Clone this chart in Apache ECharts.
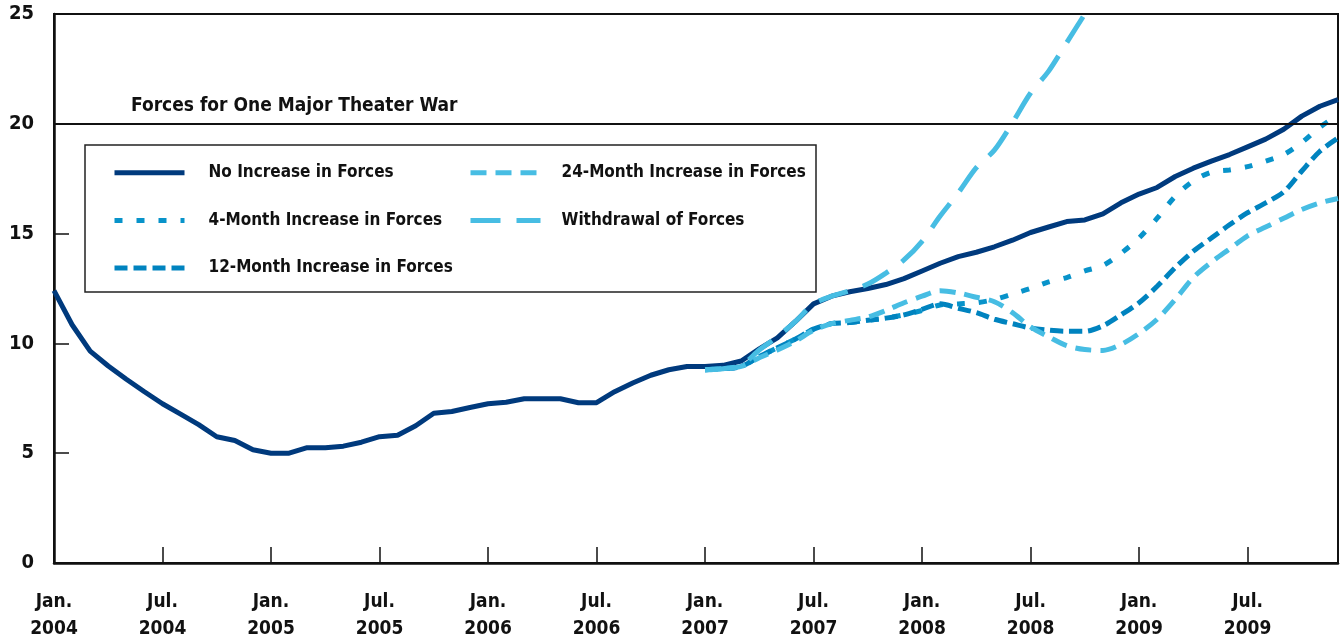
<!DOCTYPE html>
<html>
<head>
<meta charset="utf-8">
<script src="https://cdn.jsdelivr.net/npm/echarts@6/dist/echarts.min.js"></script>
<style>
    html, body { margin: 0; padding: 0; background: #fff; }
    #chart { width: 1340px; height: 643px; }
</style>
</head>
<body>
<div id="chart"></div>
<script>
// monthly points, Jan 2004 .. Dec 2009
var years = [2004, 2005, 2006, 2007, 2008, 2009];
var monthNames = ['Jan.', 'Feb.', 'Mar.', 'Apr.', 'May', 'Jun.', 'Jul.', 'Aug.', 'Sep.', 'Oct.', 'Nov.', 'Dec.'];
var yTicks = [0, 5, 10, 15, 20, 25];
var theaterWarLevel = 20;

var noIncrease = [
    12.4, 10.85, 9.65, 8.97, 8.37, 7.8, 7.25, 6.78, 6.3, 5.75, 5.58, 5.16,
    5.0, 5.0, 5.25, 5.25, 5.32, 5.5, 5.75, 5.82, 6.25, 6.82, 6.9, 7.08,
    7.25, 7.32, 7.48, 7.48, 7.48, 7.3, 7.3, 7.8, 8.2, 8.55, 8.8, 8.95,
    8.95, 9.0, 9.2, 9.75, 10.25, 11.0, 11.8, 12.15, 12.35, 12.5, 12.68, 12.95,
    13.3, 13.65, 13.95, 14.15, 14.4, 14.7, 15.05, 15.3, 15.55, 15.62, 15.9, 16.4,
    16.8, 17.1, 17.6, 17.98, 18.3, 18.6, 18.95, 19.3, 19.75, 20.35, 20.8, 21.1
];
// projections start Jan 2007 (month index 36)
var projStart = 36;
var fourMonth = [
    8.8, 8.85, 8.95, 9.4, 9.8, 10.2, 10.65, 10.9, 10.95, 11.05, 11.15, 11.3,
    11.5, 11.75, 11.8, 11.85, 12.0, 12.25, 12.5, 12.8, 13.0, 13.3, 13.55, 14.1,
    14.8, 15.7, 16.7, 17.4, 17.8, 17.9, 18.05, 18.3, 18.6, 19.15, 19.85, 20.4
];
var twelveMonth = [
    8.8, 8.85, 8.95, 9.4, 9.8, 10.2, 10.65, 10.9, 10.95, 11.05, 11.15, 11.3,
    11.55, 11.8, 11.6, 11.4, 11.1, 10.9, 10.7, 10.6, 10.55, 10.55, 10.8, 11.3,
    11.85, 12.6, 13.45, 14.2, 14.8, 15.4, 15.95, 16.4, 16.9, 17.85, 18.75, 19.35
];
var twentyFourMonth = [
    8.8, 8.85, 8.95, 9.35, 9.7, 10.1, 10.6, 10.9, 11.05, 11.2, 11.5, 11.85,
    12.15, 12.4, 12.3, 12.1, 11.9, 11.4, 10.75, 10.3, 9.9, 9.72, 9.68, 9.95,
    10.45, 11.1, 12.0, 13.0, 13.7, 14.3, 14.9, 15.3, 15.7, 16.1, 16.4, 16.6
];
var withdrawal = [
    8.8, 8.85, 9.0, 9.7, 10.3, 11.0, 11.8, 12.15, 12.4, 12.7, 13.2, 13.8,
    14.65, 15.8, 16.85, 18.0, 18.8, 20.05, 21.4, 22.4, 23.7, 25.0, 26.3
];

var categories = [];
years.forEach(function (y) {
    monthNames.forEach(function (m) { categories.push(m + '|' + y); });
});

function pad(arr) {
    var out = [];
    for (var i = 0; i < projStart; i++) out.push(null);
    return out.concat(arr);
}

var FONT = "'DejaVu Sans Condensed', 'Liberation Sans Narrow', sans-serif";
var DARK = '#003a7d';
var MID = '#0893ca';
var MID2 = '#0083bf';
var LIGHT = '#47bde3';

function proj(name, data, color, dash) {
    return {
        name: name,
        type: 'line',
        data: data,
        symbol: 'none',
        smooth: 0.3,
        lineStyle: { color: color, width: 5, type: dash, cap: 'butt' },
        itemStyle: { color: color }
    };
}

var chart = echarts.init(document.getElementById('chart'));

var legendText = { fontFamily: FONT, fontWeight: 'bold', fontSize: 17, color: '#111' };

function legendBlock(names, left, textPad) {
    return {
        data: names,
        orient: 'vertical', left: left, top: 159, z: 6,
        itemWidth: 70, itemHeight: 22, itemGap: 30,
        itemStyle: { opacity: 0, borderWidth: 0 },
        lineStyle: { width: 5, inactiveWidth: 5 },
        textStyle: Object.assign({ padding: [0, 0, 0, textPad] }, legendText)
    };
}

chart.setOption({
    animation: false,
    grid: { left: 54, right: 2, top: 14, bottom: 77, show: true, borderColor: '#111', borderWidth: 2 },
    graphic: [
        {
            type: 'rect', z: 3,
            shape: { x: 85, y: 145, width: 731, height: 147 },
            style: { fill: '#fff', stroke: '#222', lineWidth: 1.5 }
        },
        {
            type: 'text', left: 131, top: 97, z: 5,
            style: { text: 'Forces for One Major Theater War', font: 'bold 19px ' + FONT, fill: '#111' }
        }
    ],
    legend: [
        legendBlock(['No Increase in Forces', '4-Month Increase in Forces', '12-Month Increase in Forces'], 107, 19),
        legendBlock(['24-Month Increase in Forces', 'Withdrawal of Forces'], 463, 16)
    ],
    xAxis: {
        type: 'category',
        data: categories,
        boundaryGap: false,
        axisLine: { lineStyle: { color: '#111', width: 2.5 } },
        axisTick: { inside: true, length: 16, interval: 5, lineStyle: { color: '#111', width: 1.5 } },
        axisLabel: {
            interval: 5,
            margin: 26,
            fontFamily: FONT, fontWeight: 'bold', fontSize: 19, lineHeight: 27, color: '#111',
            formatter: function (v) { var p = v.split('|'); return p[0] + '\n' + p[1]; }
        },
        splitLine: { show: false }
    },
    yAxis: {
        type: 'value',
        min: yTicks[0], max: yTicks[yTicks.length - 1], interval: 5,
        axisLine: { show: true, lineStyle: { color: '#111', width: 2.5 } },
        axisTick: { show: true, inside: true, length: 15, lineStyle: { color: '#111', width: 1.5 } },
        axisLabel: { margin: 20, padding: [9, 0, 0, 0], fontFamily: FONT, fontWeight: 'bold', fontSize: 20, color: '#111' },
        splitLine: { show: false }
    },
    series: [
        {
            name: 'No Increase in Forces',
            type: 'line',
            data: noIncrease,
            symbol: 'none',
            z: 3,
            lineStyle: { color: DARK, width: 5 },
            itemStyle: { color: DARK },
            markLine: {
                silent: true, symbol: 'none',
                label: { show: false },
                lineStyle: { color: '#111', width: 2, type: 'solid' },
                data: [{ yAxis: theaterWarLevel }]
            }
        },
        proj('4-Month Increase in Forces', pad(fourMonth), MID, [8, 14]),
        proj('12-Month Increase in Forces', pad(twelveMonth), MID2, [13, 6]),
        proj('24-Month Increase in Forces', pad(twentyFourMonth), LIGHT, [16, 9]),
        proj('Withdrawal of Forces', pad(withdrawal), LIGHT, [30, 16])
    ]
});
</script>
</body>
</html>
